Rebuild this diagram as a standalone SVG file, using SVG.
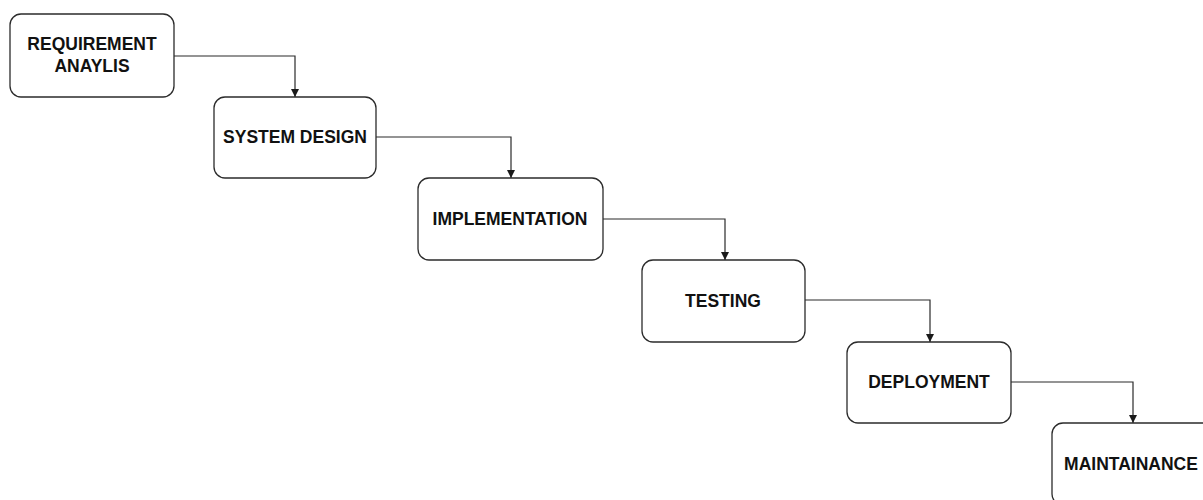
<svg xmlns="http://www.w3.org/2000/svg" width="1203" height="500" viewBox="0 0 1203 500">
  <style>
    .box { fill: #ffffff; stroke: #2b2b2b; stroke-width: 1.3; }
    .lbl { font-family: "Liberation Sans", Arial, sans-serif; font-weight: bold; font-size: 17.5px; fill: #111111; text-anchor: middle; dominant-baseline: central; }
    .edge { fill: none; stroke: #2b2b2b; stroke-width: 1.2; marker-end: url(#arrow); }
  </style>
  <defs>
    <marker id="arrow" viewBox="0 0 10 10" refX="10" refY="5" markerWidth="8" markerHeight="8" markerUnits="userSpaceOnUse" orient="auto">
      <path d="M0,0 L10,5 L0,10 Z" fill="#1a1a1a"/>
    </marker>
  </defs>
  <rect width="1203" height="500" fill="#ffffff"/>

  <g id="connectors">
    <path class="edge" d="M174,56 H295 V97"/>
    <path class="edge" d="M376,137 H511 V178"/>
    <path class="edge" d="M603,219 H725 V260"/>
    <path class="edge" d="M805,300 H930 V342"/>
    <path class="edge" d="M1011,382 H1133 V423"/>
  </g>

  <g id="requirement-analysis">
    <rect class="box" x="10" y="14" width="164" height="83" rx="11"/>
    <text class="lbl" x="92" y="44">REQUIREMENT</text>
    <text class="lbl" x="92" y="66">ANAYLIS</text>
  </g>

  <g id="system-design">
    <rect class="box" x="214" y="97" width="162" height="81" rx="11"/>
    <text class="lbl" x="295" y="137">SYSTEM DESIGN</text>
  </g>

  <g id="implementation">
    <rect class="box" x="418" y="178" width="185" height="82" rx="11"/>
    <text class="lbl" x="510" y="219">IMPLEMENTATION</text>
  </g>

  <g id="testing">
    <rect class="box" x="642" y="260" width="163" height="82" rx="11"/>
    <text class="lbl" x="723" y="301">TESTING</text>
  </g>

  <g id="deployment">
    <rect class="box" x="847" y="342" width="164" height="81" rx="11"/>
    <text class="lbl" x="929" y="382">DEPLOYMENT</text>
  </g>

  <g id="maintainance">
    <rect class="box" x="1052" y="423" width="162" height="82" rx="11"/>
    <text class="lbl" x="1131" y="464">MAINTAINANCE</text>
  </g>
</svg>
